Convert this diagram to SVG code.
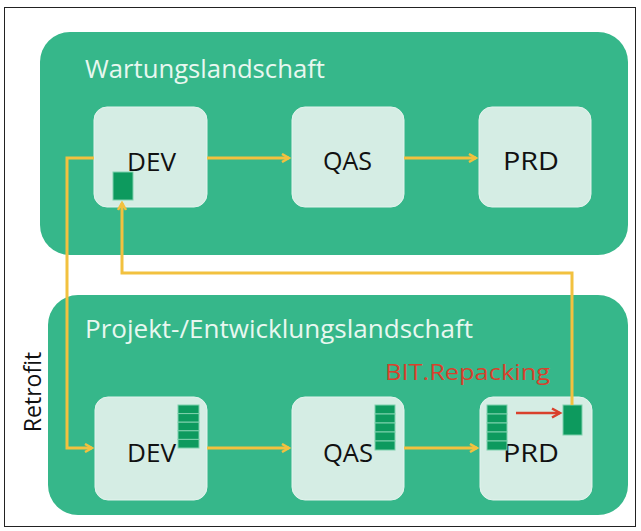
<svg xmlns="http://www.w3.org/2000/svg" width="641" height="531" viewBox="0 0 641 531">
<defs>
<style>
.land{fill:#36b78a}
.node{fill:#d5ede4;stroke:#e4f4ee;stroke-width:1}
.lt{font-family:"Open Sans","Liberation Sans",sans-serif;font-size:25px;fill:#e8f7f0}
.nt{font-family:"Open Sans","Liberation Sans",sans-serif;font-size:25px;fill:#111}
.conn{fill:none;stroke:#f2c13f;stroke-width:3}
.tr{fill:#0d9a5e;stroke:#7fd1ad;stroke-width:1}
</style>
<marker id="ah" markerWidth="10" markerHeight="10" refX="8" refY="5" orient="auto" markerUnits="userSpaceOnUse">
<path d="M1,1 L8,5 L1,9" fill="none" stroke="#f2c13f" stroke-width="2.5"/>
</marker>
<marker id="rh" markerWidth="12" markerHeight="12" refX="9" refY="6" orient="auto" markerUnits="userSpaceOnUse">
<path d="M1,1.5 L9,6 L1,10.5" fill="none" stroke="#d9412c" stroke-width="2.5"/>
</marker>
</defs>
<rect x="0" y="0" width="641" height="531" fill="#ffffff"/>
<rect x="4.5" y="7.5" width="631" height="519" fill="none" stroke="#222" stroke-width="1"/>

<g id="wartung">
<rect class="land" x="40" y="32" width="588" height="223" rx="30"/>
<text class="lt" x="85" y="78" textLength="240" lengthAdjust="spacingAndGlyphs">Wartungslandschaft</text>
</g>
<g id="projekt">
<rect class="land" x="48" y="295" width="580" height="220" rx="30"/>
<text class="lt" x="85" y="338" textLength="388" lengthAdjust="spacingAndGlyphs">Projekt-/Entwicklungslandschaft</text>
</g>

<g id="w-dev">
<rect class="node" x="94" y="107" width="113" height="100" rx="13"/>
<text class="nt" x="127" y="171" textLength="49" lengthAdjust="spacingAndGlyphs">DEV</text>
<rect class="tr" x="113" y="172" width="20" height="28"/>
</g>
<g id="w-qas">
<rect class="node" x="292" y="107" width="112" height="100" rx="13"/>
<text class="nt" x="323" y="170" textLength="49" lengthAdjust="spacingAndGlyphs">QAS</text>
</g>
<g id="w-prd">
<rect class="node" x="479" y="107" width="112" height="100" rx="13"/>
<text class="nt" x="503" y="170" textLength="56" lengthAdjust="spacingAndGlyphs">PRD</text>
</g>

<g id="p-dev">
<rect class="node" x="95" y="397" width="112" height="103" rx="13"/>
<text class="nt" x="127" y="462" textLength="49" lengthAdjust="spacingAndGlyphs">DEV</text>
<g>
<rect class="tr" x="178" y="405" width="21" height="8.6"/>
<rect class="tr" x="178" y="413.6" width="21" height="8.6"/>
<rect class="tr" x="178" y="422.2" width="21" height="8.6"/>
<rect class="tr" x="178" y="430.8" width="21" height="8.6"/>
<rect class="tr" x="178" y="439.4" width="21" height="8.6"/>
</g>
</g>
<g id="p-qas">
<rect class="node" x="292" y="397" width="112" height="103" rx="13"/>
<text class="nt" x="323" y="462" textLength="50" lengthAdjust="spacingAndGlyphs">QAS</text>
<g>
<rect class="tr" x="375" y="405" width="20" height="9"/>
<rect class="tr" x="375" y="414" width="20" height="9"/>
<rect class="tr" x="375" y="423" width="20" height="9"/>
<rect class="tr" x="375" y="432" width="20" height="9"/>
<rect class="tr" x="375" y="441" width="20" height="9"/>
</g>
</g>
<g id="p-prd">
<rect class="node" x="480" y="397" width="112" height="103" rx="13"/>
<text class="nt" x="503" y="462" textLength="56" lengthAdjust="spacingAndGlyphs">PRD</text>
<g>
<rect class="tr" x="487" y="405" width="20" height="9"/>
<rect class="tr" x="487" y="414" width="20" height="9"/>
<rect class="tr" x="487" y="423" width="20" height="9"/>
<rect class="tr" x="487" y="432" width="20" height="9"/>
<rect class="tr" x="487" y="441" width="20" height="9"/>
</g>
<rect class="tr" x="563" y="405" width="19" height="30"/>
</g>

<g id="connectors">
<path class="conn" d="M207,158 H289" marker-end="url(#ah)"/>
<path class="conn" d="M404,158 H476" marker-end="url(#ah)"/>
<path class="conn" d="M94,158 H67 V448 H92" marker-end="url(#ah)"/>
<path class="conn" d="M207,448 H289" marker-end="url(#ah)"/>
<path class="conn" d="M404,448 H477" marker-end="url(#ah)"/>
<path class="conn" d="M572,405 V273 H122 V203" marker-end="url(#ah)"/>
<path d="M516,413 H560" fill="none" stroke="#d9412c" stroke-width="2.5" marker-end="url(#rh)"/>
</g>

<text x="385" y="380" font-family="Open Sans, Liberation Sans, sans-serif" font-size="22" fill="#d9412c" textLength="165" lengthAdjust="spacingAndGlyphs">BIT.Repacking</text>
<text transform="translate(41,392) rotate(-90)" text-anchor="middle" font-family="Open Sans, Liberation Sans, sans-serif" font-size="23" fill="#111">Retrofit</text>
</svg>
